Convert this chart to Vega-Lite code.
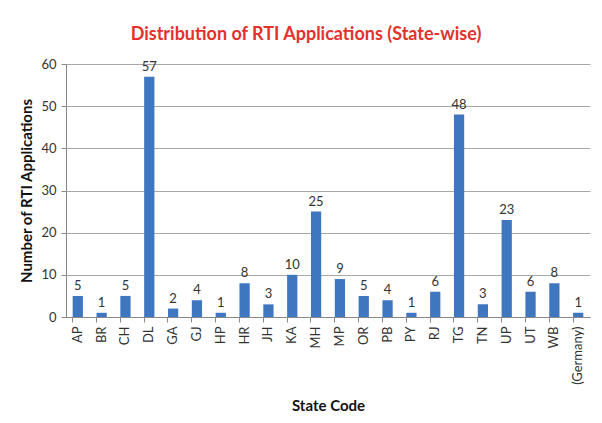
{
  "$schema": "https://vega.github.io/schema/vega-lite/v6.json",
  "autosize": "none",
  "width": 524,
  "height": 253,
  "padding": {"left": 66, "top": 64, "right": 12, "bottom": 106},
  "background": "#ffffff",
  "title": {
    "text": "Distribution of RTI Applications (State-wise)",
    "color": "#e2322b",
    "font": "Lato",
    "fontSize": 18,
    "fontWeight": "bold",
    "anchor": "middle",
    "frame": "group",
    "offset": 14,
    "dx": -22
  },
  "data": {
    "values": [
      {"code": "AP", "n": 5}, {"code": "BR", "n": 1}, {"code": "CH", "n": 5},
      {"code": "DL", "n": 57}, {"code": "GA", "n": 2}, {"code": "GJ", "n": 4},
      {"code": "HP", "n": 1}, {"code": "HR", "n": 8}, {"code": "JH", "n": 3},
      {"code": "KA", "n": 10}, {"code": "MH", "n": 25}, {"code": "MP", "n": 9},
      {"code": "OR", "n": 5}, {"code": "PB", "n": 4}, {"code": "PY", "n": 1},
      {"code": "RJ", "n": 6}, {"code": "TG", "n": 48}, {"code": "TN", "n": 3},
      {"code": "UP", "n": 23}, {"code": "UT", "n": 6}, {"code": "WB", "n": 8},
      {"code": "(Germany)", "n": 1}
    ]
  },
  "encoding": {
    "x": {
      "field": "code", "type": "nominal", "sort": null,
      "scale": {"paddingInner": 0.57, "paddingOuter": 0.28},
      "axis": {
        "title": "State Code", "labelAngle": -90, "labelFont": "Lato", "labelFontSize": 13,
        "labelColor": "#333", "titleFont": "Lato", "titleFontSize": 15, "titleFontWeight": "bold",
        "titleColor": "#111", "titlePadding": 14, "domainColor": "#888", "tickColor": "#888",
        "tickSize": 5, "bandPosition": 0, "labelPadding": 4, "labelBaseline": "middle"
      }
    },
    "y": {
      "field": "n", "type": "quantitative",
      "scale": {"domain": [0, 60]},
      "axis": {
        "title": "Number of RTI Applications", "values": [0, 10, 20, 30, 40, 50, 60],
        "labelFont": "Lato", "labelFontSize": 13, "labelColor": "#333",
        "titleFont": "Lato", "titleFontSize": 15, "titleFontWeight": "bold", "titleColor": "#111",
        "titlePadding": 6, "gridColor": "#a8a8a8", "domainColor": "#888", "tickColor": "#888",
        "tickSize": 5, "labelPadding": 5
      }
    }
  },
  "layer": [
    {"mark": {"type": "bar", "color": "#3f76c0"}},
    {
      "mark": {"type": "text", "dy": -10, "font": "Lato", "fontSize": 13, "color": "#333"},
      "encoding": {"text": {"field": "n", "type": "quantitative"}}
    }
  ],
  "config": {"view": {"stroke": null}}
}
